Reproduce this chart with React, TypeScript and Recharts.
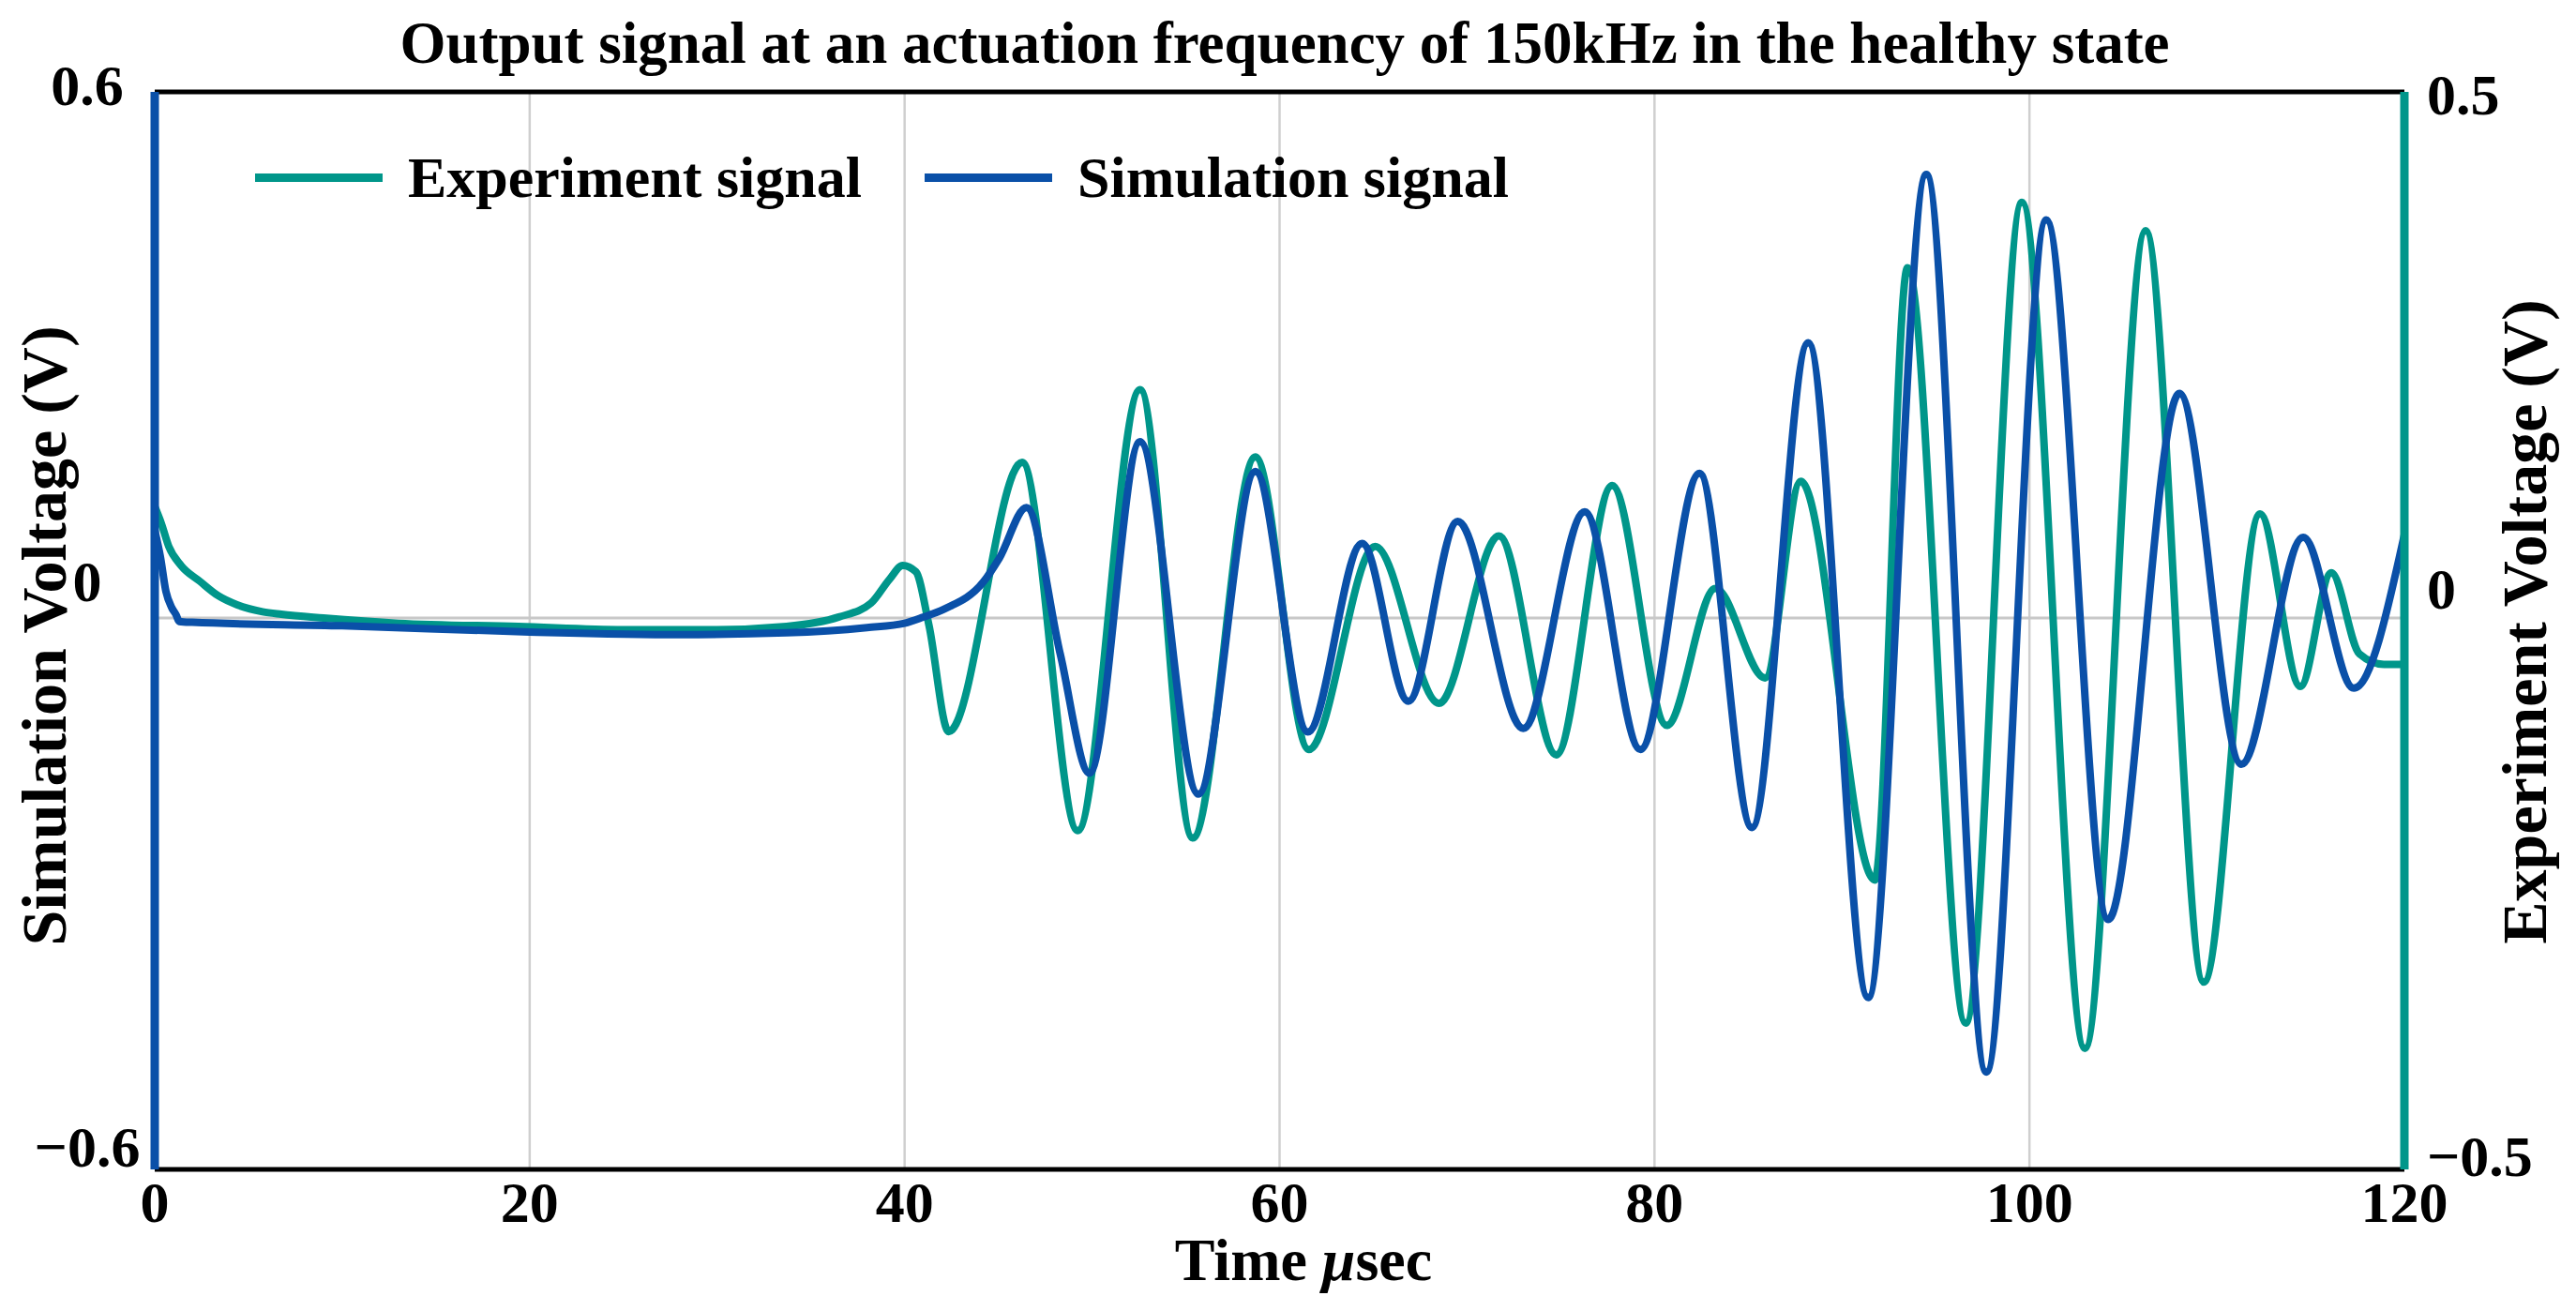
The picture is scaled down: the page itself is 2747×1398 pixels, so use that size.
import { LineChart, Line, XAxis, YAxis, CartesianGrid, ReferenceLine } from 'recharts'

// experiment signal (right axis, V)
const expTime = [
  0, 0.35, 0.75, 1.4, 2.4, 3.4, 4.4, 5.75, 6.75, 9, 13, 19.4, 25, 30, 33.7, 36.5, 38.2, 39.2, 39.9, 40.6,
  41.3, 42.35, 46.27, 49.23, 52.56, 55.37, 58.71, 61.56, 65.1, 68.5, 71.7, 74.76, 77.74, 80.65, 83.25,
  85.9, 87.8, 91.75, 93.5, 96.6, 99.6, 102.96, 106.2, 109.3, 112.3, 114.45, 116.1, 117.6, 118.9, 120,
]
const expVolt = [
  0.106, 0.09, 0.068, 0.05, 0.035, 0.021, 0.0125, 0.006, 0.0036, 0.0, -0.005, -0.008, -0.011, -0.011,
  -0.008, 0.001, 0.014, 0.037, 0.05, 0.044, -0.007, -0.108, 0.148, -0.202, 0.217, -0.209, 0.153, -0.125,
  0.068, -0.081, 0.078, -0.13, 0.126, -0.102, 0.028, -0.057, 0.13, -0.249, 0.333, -0.385, 0.395, -0.409,
  0.368, -0.346, 0.099, -0.065, 0.043, -0.034, -0.044, -0.044,
]

// simulation signal (left axis, V)
const simTime = [
  0, 0.3, 0.6, 0.9, 1.15, 1.3, 2, 10, 20, 28, 33.7, 38, 40, 41, 42.1, 44.2, 45.05, 46.5, 48.3, 49.86,
  52.56, 55.67, 58.71, 61.51, 64.4, 66.87, 69.5, 73.0, 76.28, 79.25, 82.4, 85.2, 88.2, 91.4, 94.5, 97.7,
  100.9, 104.2, 108.0, 111.3, 114.6, 117.3, 120,
]
const simVolt = [
  0.1, 0.07, 0.03, 0.012, 0.003, -0.004, -0.005, -0.009, -0.016, -0.019, -0.017, -0.011, -0.006, 0.001,
  0.01, 0.041, 0.068, 0.126, -0.041, -0.177, 0.201, -0.201, 0.167, -0.13, 0.085, -0.095, 0.11, -0.126,
  0.121, -0.15, 0.165, -0.239, 0.314, -0.433, 0.506, -0.518, 0.454, -0.344, 0.256, -0.167, 0.092, -0.08,
  0.095,
]

const xTicks = [0, 20, 40, 60, 80, 100, 120]
const leftTicks = [-0.6, 0, 0.6]
const rightTicks = [-0.5, 0, 0.5]

const title = 'Output signal at an actuation frequency of 150kHz in the healthy state'
const leftTitle = 'Simulation Voltage (V)'
const rightTitle = 'Experiment Voltage (V)'
const seriesNames = ['Experiment signal', 'Simulation signal']

const TEAL = '#00968a'
const BLUE = '#0a50a8'
const FONT = '"Liberation Serif", "Times New Roman", serif'

const expData = expTime.map((t, i) => ({ t, v: expVolt[i] }))
const simData = simTime.map((t, i) => ({ t, v: simVolt[i] }))

const fmt = (v: number) => (v === 0 ? '0' : v < 0 ? '\u2212' + Math.abs(v) : String(v))

const textStyle = { fontFamily: FONT, fontWeight: 700, fontSize: 62, fill: '#000' }

function XTick({ x, y, payload }: any) {
  return (
    <text x={x} y={y + 56} textAnchor="middle" {...textStyle}>
      {payload.value}
    </text>
  )
}

function LeftTick({ x, y, payload }: any) {
  const v = payload.value
  const shift = v > 0 ? 14 : v < 0 ? 24 : -18
  return (
    <text x={x - 72} y={y + shift} textAnchor="middle" {...textStyle}>
      {fmt(v)}
    </text>
  )
}

function RightTick({ x, y, payload }: any) {
  const v = payload.value
  const shift = v > 0 ? 24 : v < 0 ? 34 : -10
  return (
    <text x={x + 24} y={y + shift} textAnchor="start" {...textStyle}>
      {fmt(v)}
    </text>
  )
}

function LegendBox() {
  const colors = [TEAL, BLUE]
  return (
    <div
      style={{
        position: 'absolute',
        left: 272,
        top: 158,
        display: 'flex',
        alignItems: 'center',
        fontFamily: FONT,
        fontWeight: 700,
        fontSize: 62,
        lineHeight: '62px',
      }}
    >
      {seriesNames.map((name, i) => (
        <div key={name} style={{ display: 'flex', alignItems: 'center', marginLeft: i === 0 ? 0 : 67 }}>
          <span style={{ display: 'inline-block', width: 136, height: 9, background: colors[i], marginRight: 27 }} />
          <span style={{ color: '#000', whiteSpace: 'nowrap' }}>{name}</span>
        </div>
      ))}
    </div>
  )
}

const rotated = (cx: number, cy: number): React.CSSProperties => ({
  position: 'absolute',
  left: cx,
  top: cy,
  transform: 'translate(-50%, -50%) rotate(-90deg)',
  whiteSpace: 'nowrap',
  fontFamily: FONT,
  fontWeight: 700,
  fontSize: 68,
  lineHeight: '68px',
  color: '#000',
})

export default function App() {
  return (
    <div style={{ position: 'absolute', left: 0, top: 0, width: 2747, height: 1398, background: '#fff' }}>
      <div
        style={{
          position: 'absolute',
          left: 0,
          top: 15,
          width: 2740,
          textAlign: 'center',
          fontFamily: FONT,
          fontWeight: 700,
          fontSize: 63,
          lineHeight: '63px',
          whiteSpace: 'nowrap',
        }}
      >
        {title}
      </div>
      <LineChart width={2747} height={1398} margin={{ top: 98, right: 0, bottom: 0, left: 0 }}>
        <CartesianGrid horizontal={false} stroke="#cfcfcf" strokeWidth={2.5} yAxisId="left" />
        <XAxis
          dataKey="t"
          type="number"
          domain={[0, 120]}
          ticks={xTicks}
          height={151}
          axisLine={{ stroke: '#000', strokeWidth: 5 }}
          tickLine={false}
          tickSize={0}
          tickMargin={0}
          tick={<XTick />}
          allowDataOverflow
        />
        <YAxis
          yAxisId="left"
          orientation="left"
          width={165}
          domain={[-0.629, 0.6]}
          ticks={leftTicks}
          axisLine={{ stroke: BLUE, strokeWidth: 9 }}
          tickLine={false}
          tickSize={0}
          tickMargin={0}
          tick={<LeftTick />}
          allowDataOverflow
        />
        <YAxis
          yAxisId="right"
          orientation="right"
          width={183}
          domain={[-0.524, 0.5]}
          ticks={rightTicks}
          axisLine={{ stroke: TEAL, strokeWidth: 9 }}
          tickLine={false}
          tickSize={0}
          tickMargin={0}
          tick={<RightTick />}
          allowDataOverflow
        />
        <ReferenceLine yAxisId="left" y={0} stroke="#c8c8c8" strokeWidth={3} />
        <ReferenceLine yAxisId="left" y={0.6} stroke="#000" strokeWidth={5} />
        <Line
          yAxisId="right"
          data={expData}
          dataKey="v"
          name={seriesNames[0]}
          type="monotone"
          stroke={TEAL}
          strokeWidth={8}
          dot={false}
          isAnimationActive={false}
        />
        <Line
          yAxisId="left"
          data={simData}
          dataKey="v"
          name={seriesNames[1]}
          type="monotone"
          stroke={BLUE}
          strokeWidth={8}
          dot={false}
          isAnimationActive={false}
        />
      </LineChart>
      <LegendBox />
      <div style={rotated(47, 678)}>{leftTitle}</div>
      <div style={rotated(2692, 663)}>{rightTitle}</div>
      <div
        style={{
          position: 'absolute',
          left: 1390,
          top: 1312,
          transform: 'translateX(-50%)',
          whiteSpace: 'nowrap',
          fontFamily: FONT,
          fontWeight: 700,
          fontSize: 64,
          lineHeight: '64px',
        }}
      >
        Time <i>μ</i>sec
      </div>
    </div>
  )
}
